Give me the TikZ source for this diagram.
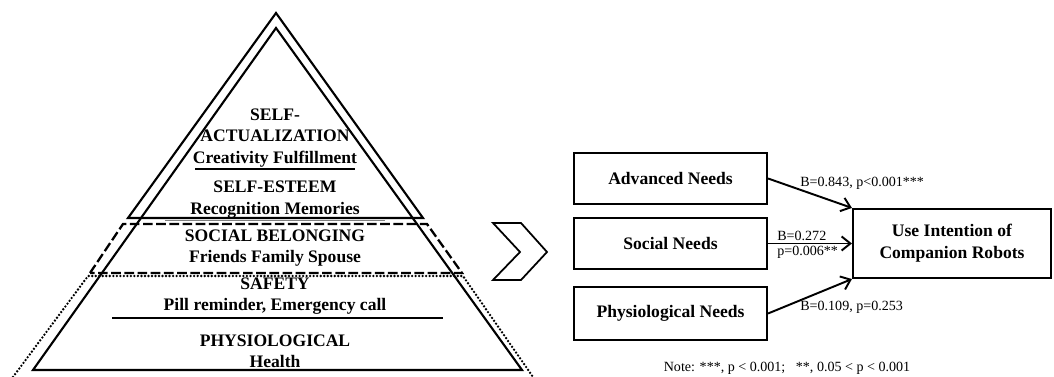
\documentclass[tikz,border=0pt]{standalone}
\usepackage{fontspec}
\setmainfont{Liberation Serif}
\usepackage{tikz}
\usetikzlibrary{arrows.meta}

\begin{document}
\begin{tikzpicture}[
    level/.style={font=\bfseries\fontsize{10}{12.2}\selectfont, align=center, inner sep=1pt},
    needbox/.style={draw, line width=1.2pt, minimum width=3.86cm, minimum height=1.02cm, font=\bfseries\fontsize{10}{12.4}\selectfont, align=center},
    coef/.style={font=\fontsize{8}{8.6}\selectfont, align=left, inner sep=0pt, anchor=west},
    arr/.style={-{Straight Barb[length=5pt, width=8pt]}, line width=1.1pt}
  ]
      \useasboundingbox (0, 0) rectangle (21.08, 7.54);
      % pyramid
      \draw[line width=1.2pt, line join=miter] (5.52, 7.28) -- (2.56, 3.18) -- (8.46, 3.18) -- cycle;
      \draw[line width=1.2pt, line join=miter] (5.52, 6.98) -- (0.66, 0.14) -- (10.44, 0.14) -- cycle;
      \draw[line width=1.3pt, dash pattern=on 5.5pt off 2pt] (1.80, 2.08) -- (2.46, 3.06) -- (8.54, 3.06) -- (9.24, 2.08) -- cycle;
      \draw[line width=1.5pt, line cap=round, dash pattern=on 0pt off 2pt] (0.26, 0) -- (1.76, 2.02) -- (9.26, 2.02) -- (10.66, 0);
      \draw[line width=0.6pt] (3.90, 4.16) -- (7.10, 4.16);
      \draw[line width=0.6pt, gray] (3.30, 3.13) -- (7.70, 3.13);
      \draw[line width=0.6pt] (2.24, 1.18) -- (8.86, 1.18);
      \node[level] (actual) at (5.50, 4.78) {SELF-\\ACTUALIZATION\\Creativity Fulfillment};
      \node[level] (esteem) at (5.50, 3.55) {SELF-ESTEEM\\Recognition Memories};
      \node[level] (belong) at (5.50, 2.58) {SOCIAL BELONGING\\Friends Family Spouse};
      \node[level] (safety) at (5.50, 1.62) {SAFETY\\Pill reminder, Emergency call};
      \node[level] (physio) at (5.50, 0.52) {PHYSIOLOGICAL\\Health};
      % chevron
      \draw[line width=1pt, line join=miter] (9.86, 3.08) -- (10.42, 3.08) -- (10.94, 2.50) -- (10.42, 1.94) -- (9.86, 1.94) -- (10.40, 2.50) -- cycle;
      % regression model
      \node[needbox] (advneed) at (13.41, 3.97) {Advanced Needs};
      \node[needbox] (socneed) at (13.41, 2.67) {Social Needs};
      \node[needbox, minimum height=1.06cm] (phyneed) at (13.41, 1.27) {Physiological Needs};
      \node[needbox, minimum width=3.96cm, minimum height=1.38cm] (useint) at (19.04, 2.67) {Use Intention of\\Companion Robots};
      \draw[arr] (advneed.east) -- (useint.north west);
      \draw[arr] (socneed.east) -- (useint.west);
      \draw[arr] (phyneed.east) -- (useint.south west);
      \node[coef] (advcoef) at (16.00, 3.88) {B=0.843, p<0.001***};
      \node[coef] (soccoef) at (15.54, 2.65) {B=0.272\\p=0.006**};
      \node[coef] (phycoef) at (16.00, 1.40) {B=0.109, p=0.253};
      \node[font=\fontsize{8}{9}\selectfont] (note) at (15.74, 0.18) {Note: ***, p < 0.001;~~~**, 0.05 < p < 0.001};
\end{tikzpicture}
\end{document}
